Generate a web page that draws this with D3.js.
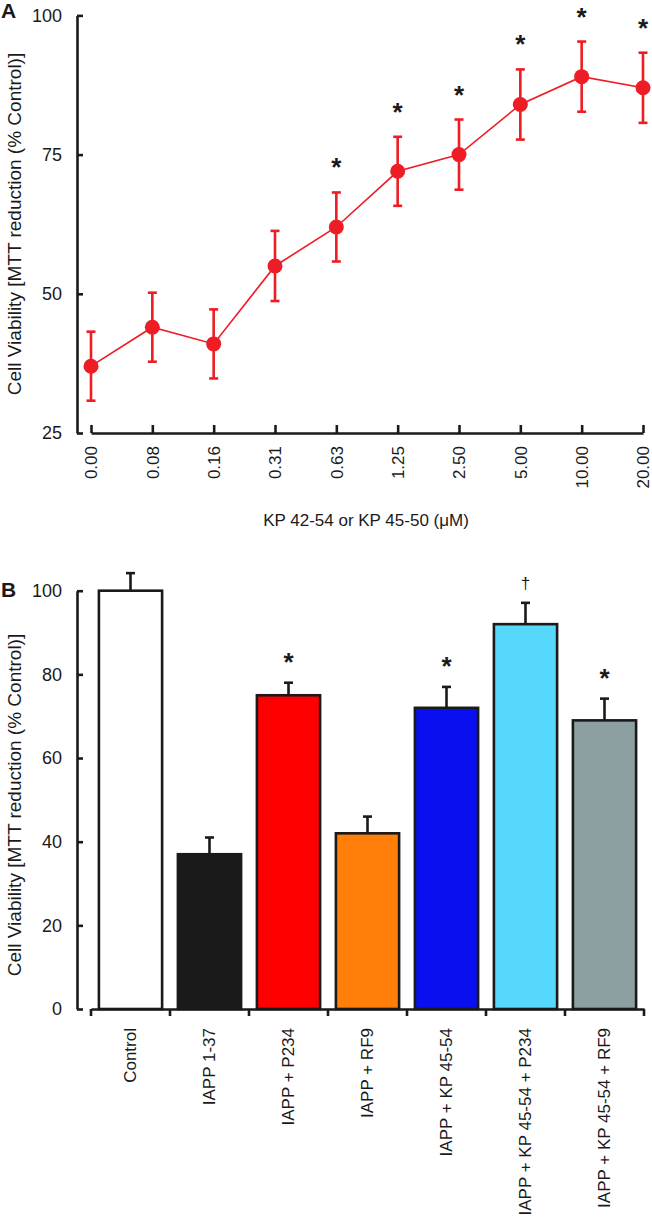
<!DOCTYPE html>
<html>
<head>
<meta charset="utf-8">
<script src="https://cdn.jsdelivr.net/npm/d3@7"></script>
<style>
  body { margin: 0; background: #fff; }
  svg { display: block; font-family: "Liberation Sans", Arial, sans-serif; }
</style>
</head>
<body>
<svg id="chart" width="652" height="1224"></svg>
<script>
// panel A: dose response
var doses = ['0.00', '0.08', '0.16', '0.31', '0.63', '1.25', '2.50', '5.00', '10.00', '20.00'];
var viability = [37, 44, 41, 55, 62, 72, 75, 84, 89, 87];
var viabilityErr = [6.2, 6.2, 6.2, 6.3, 6.2, 6.2, 6.3, 6.3, 6.3, 6.3];
var doseStars = [false, false, false, false, true, true, true, true, true, true];
var yTicksA = [25, 50, 75, 100];

// panel B: treatments
var treatments = ['Control', 'IAPP 1-37', 'IAPP + P234', 'IAPP + RF9', 'IAPP + KP 45-54',
                  'IAPP + KP 45-54 + P234', 'IAPP + KP 45-54 + RF9'];
var treatmentValues = [100, 37, 75, 42, 72, 92, 69];
var treatmentErr = [4.2, 4, 3, 4, 5, 5.1, 5.2];
var treatmentMarks = ['', '', '*', '', '*', '\u2020', '*'];
var treatmentColors = ['#ffffff', '#1a1a1a', '#ff0000', '#ff7f0a', '#0a0fef', '#55d8fb', '#8ca0a1'];
var yTicksB = [0, 20, 40, 60, 80, 100];

var svg = d3.select('#chart');
var red = '#ee1c24';
var axisColor = '#1a1a1a';
var yTitle = 'Cell Viability [MTT reduction (% Control)]';

function styleAxis(g) {
	g.select('.domain').attr('stroke', axisColor).attr('stroke-width', 2.6);
	g.selectAll('.tick line').attr('stroke', axisColor).attr('stroke-width', 2.6);
	g.selectAll('.tick text').attr('fill', '#1a1a1a').style('font-size', '18px');
}

// ---------- panel A ----------
var xA = d3.scalePoint().domain(doses).range([91, 643]);
var yA = d3.scaleLinear().domain([25, 100]).range([433, 15.4]);

var gyA = svg.append('g').attr('transform', 'translate(77,0)')
	.call(d3.axisLeft(yA).tickValues(yTicksA).tickSizeInner(-6).tickSizeOuter(0).tickPadding(15));
styleAxis(gyA);

var gxA = svg.append('g').attr('transform', 'translate(0,433)')
	.call(d3.axisBottom(xA).tickSizeInner(-8).tickSizeOuter(0));
styleAxis(gxA);
gxA.selectAll('.tick text')
	.attr('text-anchor', 'end')
	.attr('transform', 'translate(0,13) rotate(-90)')
	.attr('x', 0).attr('y', 0).attr('dy', '0.35em')
	.style('font-size', '17px');

svg.append('text').attr('x', 366).attr('y', 526).attr('text-anchor', 'middle')
	.style('font-size', '17px').attr('fill', '#1a1a1a')
	.text('KP 42-54 or KP 45-50 (\u03bcM)');

svg.append('text').attr('transform', 'translate(21,224) rotate(-90)').attr('text-anchor', 'middle')
	.style('font-size', '19px').attr('fill', '#1a1a1a').text(yTitle);

svg.append('text').attr('x', 1).attr('y', 18).style('font-size', '21px').style('font-weight', 'bold')
	.attr('fill', '#1a1a1a').text('A');

var pts = doses.map(function(d, i) {
	return { dose: d, v: viability[i], e: viabilityErr[i], star: doseStars[i] };
});

svg.append('path').datum(pts)
	.attr('fill', 'none').attr('stroke', red).attr('stroke-width', 1.6)
	.attr('d', d3.line().x(function(d) { return xA(d.dose); }).y(function(d) { return yA(d.v); }));

var errA = svg.append('g').attr('stroke', red).attr('stroke-width', 2.6);
pts.forEach(function(d) {
	var x = xA(d.dose);
	errA.append('line').attr('x1', x).attr('x2', x).attr('y1', yA(d.v + d.e)).attr('y2', yA(d.v - d.e));
	errA.append('line').attr('x1', x - 4.5).attr('x2', x + 4.5).attr('y1', yA(d.v + d.e)).attr('y2', yA(d.v + d.e));
	errA.append('line').attr('x1', x - 4.5).attr('x2', x + 4.5).attr('y1', yA(d.v - d.e)).attr('y2', yA(d.v - d.e));
});

svg.append('g').selectAll('circle').data(pts).join('circle')
	.attr('cx', function(d) { return xA(d.dose); })
	.attr('cy', function(d) { return yA(d.v); })
	.attr('r', 7.5).attr('fill', red);

svg.append('g').selectAll('text').data(pts.filter(function(d) { return d.star; })).join('text')
	.attr('x', function(d) { return xA(d.dose); })
	.attr('y', function(d) { return yA(d.v + d.e) - 16; })
	.attr('text-anchor', 'middle').style('font-size', '26px').style('font-weight', 'bold')
	.attr('fill', '#1a1a1a').text('*');

// ---------- panel B ----------
var xB = d3.scaleBand().domain(treatments).range([91, 644]).paddingInner(0.2).paddingOuter(0.1);
var yB = d3.scaleLinear().domain([0, 100]).range([1009, 590.7]);

var gyB = svg.append('g').attr('transform', 'translate(77,0)')
	.call(d3.axisLeft(yB).tickValues(yTicksB).tickSizeInner(-6).tickSizeOuter(0).tickPadding(15));
styleAxis(gyB);

svg.append('text').attr('transform', 'translate(21,805) rotate(-90)').attr('text-anchor', 'middle')
	.style('font-size', '19px').attr('fill', '#1a1a1a').text(yTitle);

svg.append('text').attr('x', 1).attr('y', 597).style('font-size', '21px').style('font-weight', 'bold')
	.attr('fill', '#1a1a1a').text('B');

var bars = treatments.map(function(t, i) {
	return { name: t, v: treatmentValues[i], e: treatmentErr[i], mark: treatmentMarks[i], color: treatmentColors[i] };
});

var barG = svg.append('g');
bars.forEach(function(d) {
	var x0 = xB(d.name), w = xB.bandwidth(), cx = x0 + w / 2;
	barG.append('line').attr('x1', cx).attr('x2', cx).attr('y1', yB(d.v)).attr('y2', yB(d.v + d.e))
		.attr('stroke', axisColor).attr('stroke-width', 2.6);
	barG.append('line').attr('x1', cx - 4.5).attr('x2', cx + 4.5).attr('y1', yB(d.v + d.e)).attr('y2', yB(d.v + d.e))
		.attr('stroke', axisColor).attr('stroke-width', 2.6);
	barG.append('rect').attr('x', x0).attr('width', w)
		.attr('y', yB(d.v)).attr('height', yB(0) - yB(d.v))
		.attr('fill', d.color).attr('stroke', axisColor).attr('stroke-width', 2.6);
	if (d.mark === '*') {
		barG.append('text').attr('x', cx).attr('y', yB(d.v + d.e) - 12)
			.attr('text-anchor', 'middle').style('font-size', '26px').style('font-weight', 'bold')
			.attr('fill', '#1a1a1a').text('*');
	} else if (d.mark) {
		barG.append('text').attr('x', cx).attr('y', yB(d.v + d.e) - 14)
			.attr('text-anchor', 'middle').style('font-size', '17px')
			.attr('fill', '#1a1a1a').text(d.mark);
	}
});

// x axis B: ticks at band boundaries, labels at band centres
var gxB = svg.append('g').attr('transform', 'translate(0,1009)')
	.call(d3.axisBottom(xB).tickSize(0).tickPadding(0));
gxB.select('.domain').attr('stroke', axisColor).attr('stroke-width', 2.6);
gxB.selectAll('.tick text')
	.attr('text-anchor', 'end')
	.attr('transform', 'translate(0,19) rotate(-90)')
	.attr('x', 0).attr('y', 0).attr('dy', '0.35em')
	.attr('fill', '#1a1a1a').style('font-size', '17px');
var bounds = d3.range(treatments.length + 1).map(function(i) { return xB.range()[0] + i * xB.step(); });
gxB.selectAll('.bound').data(bounds).join('line').attr('class', 'bound')
	.attr('x1', function(d) { return d; }).attr('x2', function(d) { return d; })
	.attr('y1', 0).attr('y2', 7)
	.attr('stroke', axisColor).attr('stroke-width', 2.6);
</script>
</body>
</html>
